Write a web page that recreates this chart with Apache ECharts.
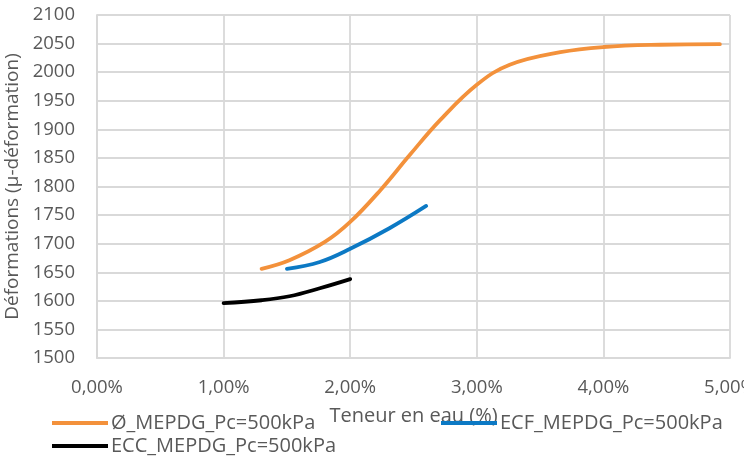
<!DOCTYPE html>
<html>
<head>
<meta charset="utf-8">
<script src="https://cdn.jsdelivr.net/npm/echarts@6/dist/echarts.min.js"></script>
<style>
  html, body { margin: 0; padding: 0; background: #fff; }
  #chart { width: 744px; height: 458px; }
</style>
</head>
<body>
<div id="chart"></div>
<script>
// Water content (%) vs. deformation (µ-deformation)
const seriesNames = ['Ø_MEPDG_Pc=500kPa', 'ECF_MEPDG_Pc=500kPa', 'ECC_MEPDG_Pc=500kPa'];
const seriesColors = ['#F3913B', '#0C79C4', '#000000'];

const orangeX = [1.3, 1.52, 1.8, 2.0, 2.24, 2.47, 2.71, 3.0, 3.26, 3.66, 4.0, 4.45, 4.92];
const orangeY = [1656, 1671, 1703, 1738, 1794, 1855, 1916, 1978, 2013, 2035, 2044, 2048, 2049];

const blueX = [1.5, 1.76, 2.0, 2.31, 2.6];
const blueY = [1656, 1668, 1691, 1727, 1766];

const blackX = [1.0, 1.3, 1.52, 1.76, 2.0];
const blackY = [1596, 1601, 1608, 1622, 1638];

const xTicks = [0, 1, 2, 3, 4, 5];
const yMin = 1500, yMax = 2100, yStep = 50;

const pairs = (xs, ys) => xs.map((x, i) => [x, ys[i]]);
const font = '"Open Sans", Lato, sans-serif';
const gridColor = '#D9D9D9';
const textColor = '#595959';

const chart = echarts.init(document.getElementById('chart'));
const data = [pairs(orangeX, orangeY), pairs(blueX, blueY), pairs(blackX, blackY)];

chart.setOption({
  animation: false,
  textStyle: { fontFamily: font },
  // fixed plot rectangle; the last x label is allowed to run past the canvas edge
  grid: { left: 97, right: 14, top: 15, bottom: 100, outerBoundsMode: 'none', containLabel: false },
  xAxis: {
    type: 'value',
    min: xTicks[0], max: xTicks[xTicks.length - 1], interval: 1,
    name: 'Teneur en eau (%)',
    nameLocation: 'middle', nameGap: 32,
    nameTextStyle: { color: textColor, fontSize: 20, lineHeight: 24, fontFamily: font },
    axisLine: { show: true, lineStyle: { color: gridColor, width: 1.8 } },
    axisTick: { show: false },
    axisLabel: {
      color: textColor, fontSize: 18.5, lineHeight: 22, fontFamily: font, margin: 19,
      formatter: v => v.toFixed(2).replace('.', ',') + '%'
    },
    splitLine: { show: true, lineStyle: { color: gridColor, width: 1.8 } }
  },
  yAxis: {
    type: 'value',
    min: yMin, max: yMax, interval: yStep,
    name: 'Déformations (µ-déformation)',
    nameLocation: 'middle', nameGap: 60,
    nameTextStyle: { color: textColor, fontSize: 19, fontFamily: font },
    axisLine: { show: true, lineStyle: { color: gridColor, width: 1.8 } },
    axisTick: { show: false },
    axisLabel: {
      color: textColor, fontSize: 18.5, fontFamily: font, margin: 22,
      formatter: v => String(v)
    },
    splitLine: { show: true, lineStyle: { color: gridColor, width: 1.8 } }
  },
  legend: [
    { data: [seriesNames[0]], left: 52, top: 411 },
    { data: [seriesNames[1]], left: 441, top: 411 },
    { data: [seriesNames[2]], left: 52, top: 434 }
  ].map(l => Object.assign(l, {
    icon: 'rect', itemWidth: 56, itemHeight: 4, itemGap: 2, padding: 0,
    textStyle: { color: textColor, fontSize: 20, lineHeight: 24, fontFamily: font, padding: [0, 0, 0, -2] }
  })),
  series: seriesNames.map((name, i) => ({
    name, type: 'line', smooth: 0.4, showSymbol: false, symbol: 'none',
    data: data[i], color: seriesColors[i],
    lineStyle: { width: 3.8, color: seriesColors[i], cap: 'round' }
  }))
});
</script>
</body>
</html>
